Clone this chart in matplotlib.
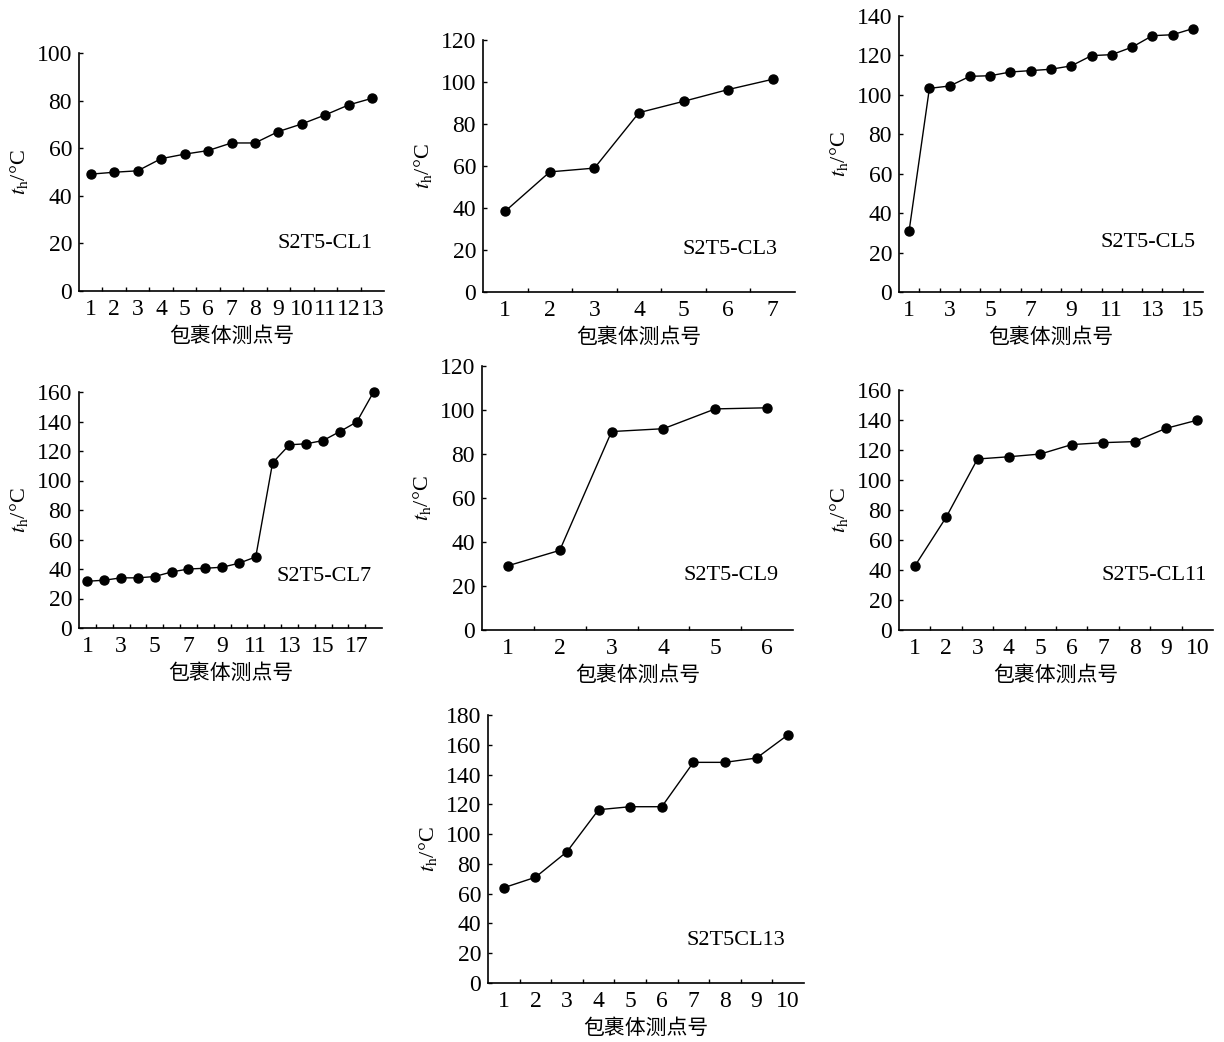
import matplotlib
matplotlib.use("Agg")
import matplotlib.pyplot as plt
import numpy as np

plt.rcParams['font.family'] = ['Liberation Serif', 'Noto Sans CJK SC', 'DejaVu Sans']
plt.rcParams['mathtext.fontset'] = 'stix'

# ---- data ----
cl1 = [49.1, 49.9, 50.5, 55.6, 57.5, 59.0, 62.2, 62.2, 67.0, 70.2, 74.0, 78.2, 81.0]
cl3 = [38.5, 57.2, 59.0, 85.4, 90.8, 96.4, 101.3]
cl5 = [31.1, 103.3, 104.5, 109.4, 109.7, 111.6, 112.3, 113.0, 114.7, 119.9, 120.4, 124.2, 130.0, 130.5, 133.6]
cl7 = [31.7, 32.4, 34.0, 34.0, 34.9, 38.0, 40.0, 40.5, 41.2, 43.9, 48.2, 112.0, 124.2, 124.9, 127.1, 133.2, 139.7, 160.0]
cl9 = [29.2, 36.2, 90.2, 91.5, 100.5, 101.0]
cl11 = [42.5, 75.1, 114.0, 115.5, 117.3, 123.6, 124.9, 125.6, 134.4, 139.9]
cl13 = [64.0, 71.0, 88.2, 116.4, 118.4, 118.4, 148.2, 148.2, 151.1, 166.8]

names = ["S2T5-CL1", "S2T5-CL3", "S2T5-CL5", "S2T5-CL7", "S2T5-CL9", "S2T5-CL11", "S2T5CL13"]
series = [cl1, cl3, cl5, cl7, cl9, cl11, cl13]
ymax = [100, 120, 140, 160, 120, 160, 180]
label_step = [1, 1, 2, 2, 1, 1, 1]
xlabel = "包裹体测点号"
ylabel = r"$t_{\mathrm{h}}$/°C"

# ---- layout (pixels: left, right, top, bottom) ----
W, H = 1224, 1042
boxes = [(79, 384, 53, 291), (483, 795, 40, 292), (899, 1203, 16, 292),
         (79, 382, 392, 628), (482, 793, 366, 630), (899, 1213, 390, 630),
         (488, 804, 715, 983)]
text_pos = [(0.964, 0.20), (0.945, 0.167), (0.977, 0.178), (0.967, 0.217),
            (0.955, 0.205), (0.98, 0.225), (0.94, 0.16)]

fig = plt.figure(figsize=(W / 100, H / 100), dpi=100)

for k, (vals, name, ym, step, box, tp) in enumerate(zip(series, names, ymax, label_step, boxes, text_pos)):
    l, r, t, b = box
    ax = fig.add_axes([l / W, (H - b) / H, (r - l) / W, (b - t) / H])
    n = len(vals)
    x = np.arange(1, n + 1)
    ax.plot(x, vals, color='black', lw=1.0, marker='o', ms=6.5, mfc='black', mec='black', clip_on=False)
    ax.set_xlim(0.5, n + 0.5)
    ax.set_ylim(0, ym)
    ax.set_yticks(np.arange(0, ym + 1, 20))
    ax.set_xticks(x[::step])
    ax.set_xticklabels([str(v) for v in x[::step]])
    ax.set_xticks(np.arange(1.5, n, 1.0), minor=True)
    ax.tick_params(axis='x', which='major', length=0, labelsize=17, pad=6)
    ax.tick_params(axis='x', which='minor', direction='in', length=3, width=1)
    ax.tick_params(axis='y', which='major', direction='in', length=3, width=1, labelsize=17, pad=5)
    for s in ['top', 'right']:
        ax.spines[s].set_visible(False)
    for s in ['left', 'bottom']:
        ax.spines[s].set_linewidth(1.2)
    ax.set_xlabel(xlabel, fontsize=15, family=['Noto Sans CJK SC'], fontweight='medium', labelpad=3)
    ax.set_ylabel(ylabel, fontsize=16, labelpad=5)
    ax.text(tp[0], tp[1], name, transform=ax.transAxes, ha='right', va='center', fontsize=16)

fig.savefig("out.png", dpi=100, facecolor='white')
